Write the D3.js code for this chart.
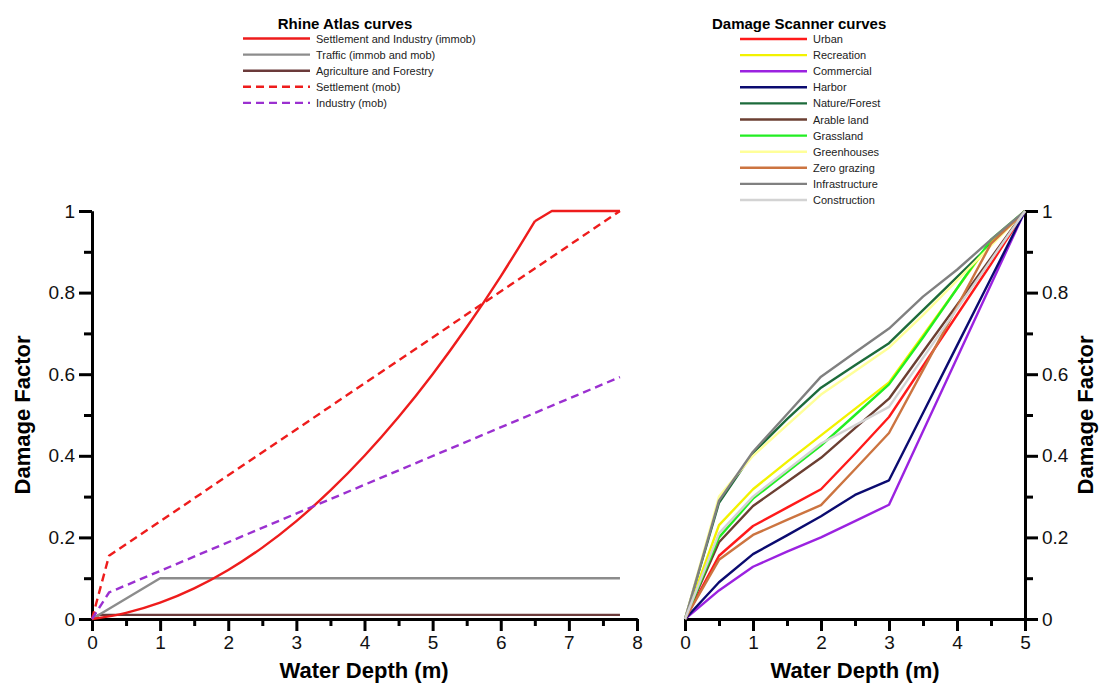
<!DOCTYPE html>
<html>
<head>
<meta charset="utf-8">
<script src="https://cdn.jsdelivr.net/npm/d3@7"></script>
<style>
  html, body { margin: 0; padding: 0; background: #fff; }
  svg { display: block; font-family: Arial, "Liberation Sans", sans-serif; }
</style>
</head>
<body>
<svg id="chart" width="1100" height="684"></svg>
<script>
// ---------- Data: Rhine Atlas curves (left panel) ----------
const rhineNames = ["Settlement and Industry (immob)", "Traffic (immob and mob)", "Agriculture and Forestry", "Settlement (mob)", "Industry (mob)"];
const rhineColors = ["#ee1c1c", "#8c8c8c", "#6b3a3a", "#ee1c1c", "#9b30d0"];
const rhineDashed = [false, false, false, true, true];

const settlementIndustryDepth = [0, 0.5, 1, 1.5, 2, 2.5, 3, 3.5, 4, 4.5, 5, 5.5, 6, 6.5, 6.75, 7.75];
const settlementIndustryDamage = [0, 0.015, 0.04, 0.075, 0.12, 0.175, 0.24, 0.315, 0.4, 0.495, 0.6, 0.715, 0.84, 0.975, 1, 1];
const trafficDepth = [0, 1, 7.75];
const trafficDamage = [0, 0.1, 0.1];
const agricultureDepth = [0, 0.1, 7.75];
const agricultureDamage = [0, 0.01, 0.01];
const settlementMobDepth = [0, 0.25, 7.75];
const settlementMobDamage = [0, 0.155, 1];
const industryMobDepth = [0, 0.25, 7.75];
const industryMobDamage = [0, 0.065, 0.593];

// ---------- Data: Damage Scanner curves (right panel) ----------
const dsNames = ["Urban", "Recreation", "Commercial", "Harbor", "Nature/Forest", "Arable land", "Grassland", "Greenhouses", "Zero grazing", "Infrastructure", "Construction"];
const dsColors = ["#ff1a1a", "#f2f200", "#9b22e0", "#0b0b70", "#1d6b3b", "#6b3f32", "#22ee22", "#ffff99", "#cc7440", "#808080", "#d3d3d3"];
const dsDepth = [0, 0.5, 1, 1.5, 2, 2.5, 3, 3.5, 4, 4.5, 5];
const urban = [0, 0.155, 0.228, 0.273, 0.318, 0.405, 0.495, 0.62, 0.745, 0.87, 1];
const recreation = [0, 0.23, 0.318, 0.385, 0.45, 0.515, 0.58, 0.695, 0.81, 0.925, 1];
const commercial = [0, 0.07, 0.128, 0.165, 0.2, 0.24, 0.28, 0.46, 0.64, 0.82, 1];
const harbor = [0, 0.09, 0.159, 0.205, 0.252, 0.304, 0.34, 0.505, 0.67, 0.835, 1];
const natureForest = [0, 0.285, 0.407, 0.49, 0.567, 0.622, 0.676, 0.757, 0.838, 0.919, 1];
const arableLand = [0, 0.188, 0.277, 0.336, 0.395, 0.468, 0.54, 0.655, 0.77, 0.885, 1];
const grassland = [0, 0.2, 0.295, 0.36, 0.425, 0.5, 0.575, 0.69, 0.81, 0.93, 1];
const greenhouses = [0, 0.3, 0.4, 0.475, 0.55, 0.607, 0.665, 0.745, 0.83, 0.915, 1];
const zeroGrazing = [0, 0.145, 0.206, 0.243, 0.279, 0.367, 0.456, 0.61, 0.765, 0.92, 1];
const infrastructure = [0, 0.29, 0.41, 0.502, 0.594, 0.653, 0.712, 0.79, 0.856, 0.93, 1];
const construction = [0, 0.21, 0.3, 0.365, 0.43, 0.475, 0.52, 0.64, 0.76, 0.88, 1];

// ---------- Tick labels ----------
const yMajorTicks = [0, 0.2, 0.4, 0.6, 0.8, 1];
const yMinorTicks = [0.1, 0.3, 0.5, 0.7, 0.9];
const xLeftMajorTicks = [0, 1, 2, 3, 4, 5, 6, 7, 8];
const xLeftMinorTicks = [0.5, 1.5, 2.5, 3.5, 4.5, 5.5, 6.5, 7.5];
const xRightMajorTicks = [0, 1, 2, 3, 4, 5];
const xRightMinorTicks = [0.5, 1.5, 2.5, 3.5, 4.5];
const xTitle = "Water Depth (m)";
const yTitle = "Damage Factor";

// ---------- Build ----------
const svg = d3.select("#chart");
const y = d3.scaleLinear().domain([0, 1]).range([619, 211]);
const xL = d3.scaleLinear().domain([0, 8]).range([92, 637]);
const xR = d3.scaleLinear().domain([0, 5]).range([685, 1025]);

const rhineData = [
  settlementIndustryDepth.map((d, i) => [d, settlementIndustryDamage[i]]),
  trafficDepth.map((d, i) => [d, trafficDamage[i]]),
  agricultureDepth.map((d, i) => [d, agricultureDamage[i]]),
  settlementMobDepth.map((d, i) => [d, settlementMobDamage[i]]),
  industryMobDepth.map((d, i) => [d, industryMobDamage[i]])
];
const dsValues = [urban, recreation, commercial, harbor, natureForest, arableLand, grassland, greenhouses, zeroGrazing, infrastructure, construction];
const dsData = dsValues.map(vals => dsDepth.map((d, i) => [d, vals[i]]));

const tickFont = 19;
function styleAxis(g) {
  g.selectAll(".domain").attr("stroke", "#000").attr("stroke-width", 3);
  g.selectAll(".tick line").attr("stroke", "#000").attr("stroke-width", 3);
  g.selectAll(".tick text").attr("fill", "#111").attr("font-size", tickFont).attr("font-family", "Arial, 'Liberation Sans', sans-serif");
}
const fmt = d => String(d);

// Left panel axes
svg.append("g").attr("transform", "translate(0,619)")
  .call(d3.axisBottom(xL).tickValues(xLeftMinorTicks).tickSize(7).tickSizeOuter(0).tickFormat(""))
  .call(styleAxis);
svg.append("g").attr("transform", "translate(0,619)")
  .call(d3.axisBottom(xL).tickValues(xLeftMajorTicks).tickSize(12).tickSizeOuter(0).tickPadding(5).tickFormat(fmt))
  .call(styleAxis);
svg.append("g").attr("transform", "translate(92,0)")
  .call(d3.axisLeft(y).tickValues(yMinorTicks).tickSize(8).tickSizeOuter(0).tickFormat(""))
  .call(styleAxis);
svg.append("g").attr("transform", "translate(92,0)")
  .call(d3.axisLeft(y).tickValues(yMajorTicks).tickSize(13).tickSizeOuter(0).tickPadding(4).tickFormat(fmt))
  .call(styleAxis);

// Right panel axes
svg.append("g").attr("transform", "translate(0,619)")
  .call(d3.axisBottom(xR).tickValues(xRightMinorTicks).tickSize(7).tickSizeOuter(0).tickFormat(""))
  .call(styleAxis);
svg.append("g").attr("transform", "translate(0,619)")
  .call(d3.axisBottom(xR).tickValues(xRightMajorTicks).tickSize(12).tickSizeOuter(0).tickPadding(5).tickFormat(fmt))
  .call(styleAxis);
svg.append("g").attr("transform", "translate(1025,0)")
  .call(d3.axisRight(y).tickValues(yMinorTicks).tickSize(8).tickSizeOuter(0).tickFormat(""))
  .call(styleAxis);
svg.append("g").attr("transform", "translate(1025,0)")
  .call(d3.axisRight(y).tickValues(yMajorTicks).tickSize(13).tickSizeOuter(0).tickPadding(4).tickFormat(fmt))
  .call(styleAxis);

// Lines
const lineL = d3.line().x(d => xL(d[0])).y(d => y(d[1]));
const lineLSmooth = d3.line().x(d => xL(d[0])).y(d => y(d[1])).curve(d3.curveMonotoneX);
const lineR = d3.line().x(d => xR(d[0])).y(d => y(d[1]));

function drawRhine(i) {
  const attrs = p => p.attr("fill", "none")
    .attr("stroke", rhineColors[i]).attr("stroke-width", 2.4)
    .attr("stroke-dasharray", rhineDashed[i] ? "8,5" : null)
    .attr("stroke-linejoin", "round");
  if (i === 0) {
    // smooth rising part up to the kink, then straight segments
    const kink = settlementIndustryDepth.indexOf(6.5);
    svg.append("path").datum(rhineData[0].slice(0, kink + 1)).attr("d", lineLSmooth).call(attrs);
    svg.append("path").datum(rhineData[0].slice(kink)).attr("d", lineL).call(attrs);
  } else {
    svg.append("path").datum(rhineData[i]).attr("d", lineL).call(attrs);
  }
}
[2, 1, 0, 3, 4].forEach(drawRhine);

dsData.forEach((dat, i) => {
  svg.append("path").datum(dat)
    .attr("d", lineR).attr("fill", "none")
    .attr("stroke", dsColors[i]).attr("stroke-width", 2.4)
    .attr("stroke-linejoin", "round");
});

// Axis titles
const titleFont = 22;
[[364, xTitle], [855, xTitle]].forEach(([cx, t]) => {
  svg.append("text").attr("x", cx).attr("y", 678).attr("text-anchor", "middle")
    .attr("font-size", titleFont).attr("font-weight", "bold").text(t);
});
[30, 1093].forEach(cx => {
  svg.append("text").attr("transform", `translate(${cx},415) rotate(-90)`)
    .attr("text-anchor", "middle").attr("font-size", titleFont).attr("font-weight", "bold").text(yTitle);
});

// Legends
function legend(title, titleX, titleAnchor, names, colors, dashed, lineX0, lineX1, rowY0) {
  svg.append("text").attr("x", titleX).attr("y", 29).attr("text-anchor", titleAnchor)
    .attr("font-size", 15).attr("font-weight", "bold").text(title);
  names.forEach((n, i) => {
    const yy = rowY0 + i * 16.1;
    svg.append("line").attr("x1", lineX0).attr("x2", lineX1).attr("y1", yy).attr("y2", yy)
      .attr("stroke", colors[i]).attr("stroke-width", 2.4)
      .attr("stroke-dasharray", dashed && dashed[i] ? "8,5" : null);
    svg.append("text").attr("x", lineX1 + 6).attr("y", yy + 4).attr("font-size", 11).attr("fill", "#222").text(n);
  });
}
legend("Rhine Atlas curves", 345, "middle", rhineNames, rhineColors, rhineDashed, 243, 310, 38.5);
legend("Damage Scanner curves", 712, "start", dsNames, dsColors, null, 740, 807, 39);
</script>
</body>
</html>
